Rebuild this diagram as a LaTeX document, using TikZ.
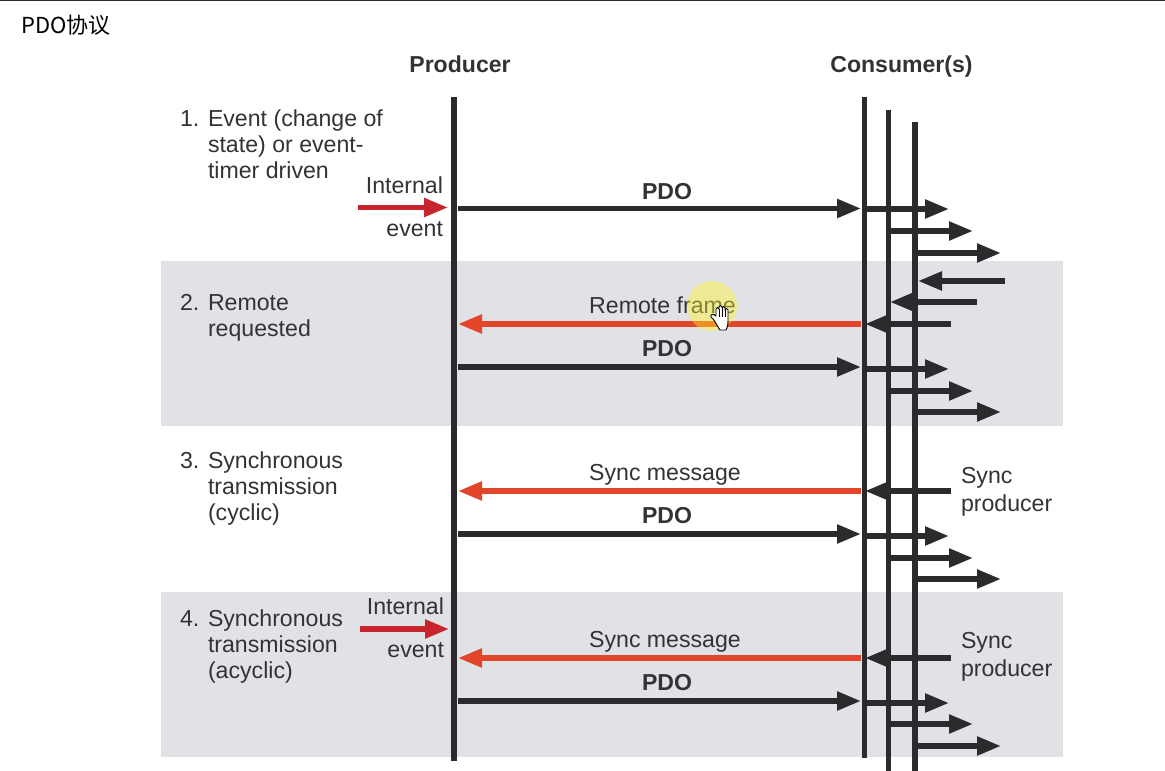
\documentclass[tikz,border=0pt]{standalone}
\usepackage{fontspec}
\setmainfont{Liberation Sans}
\newfontfamily\cjkf{Noto Sans CJK SC}
\usetikzlibrary{arrows.meta}
\definecolor{ink}{HTML}{2B2B2E}
\definecolor{txt}{HTML}{333336}
\definecolor{band}{HTML}{E1E2E5}
\definecolor{redorange}{HTML}{E2452A}
\definecolor{crimson}{HTML}{C8242E}
\tikzset{
  x=0.75pt,y=-0.75pt,
  vline/.style={draw=ink,line width=4.4pt},
  flow/.style={line width=4pt,-{Triangle[length=18pt,width=13.5pt,sep=0pt]}},
  blackflow/.style={flow,draw=ink,color=ink},
  redflow/.style={flow,draw=redorange,color=redorange},
  eventflow/.style={flow,draw=crimson,color=crimson},
  lbl/.style={inner sep=0pt,outer sep=0pt,text=txt,font=\fontsize{17.35}{19.5}\selectfont},
  blbl/.style={lbl,font=\fontsize{17.3}{19.5}\selectfont\bfseries},
  multi/.style={lbl,align=left,anchor=north west},
}
\begin{document}
\begin{tikzpicture}
\useasboundingbox (0,0) rectangle (1165,771);
\fill[white] (0,0) rectangle (1165,771);
\draw[ink,line width=1pt] (0,0.5) -- (1165,0.5);
\node[inner sep=0pt,anchor=base west,font=\fontsize{16.5}{18}\cjkf] (title) at (21,33) {PDO协议};
% bands
\fill[band] (161,261) rectangle (1063,426);
\fill[band] (161,592) rectangle (1063,757);
% lifelines
\coordinate (ptop) at (454,97); \coordinate (pbot) at (454,761);
\coordinate (c1top) at (864.5,97); \coordinate (c1bot) at (864.5,758);
\coordinate (c2top) at (888.5,110); \coordinate (c2bot) at (888.5,771);
\coordinate (c3top) at (915,122); \coordinate (c3bot) at (915,771);
\foreach \n in {p,c1,c2,c3} \draw[vline] (\n top) -- (\n bot);
% headers
\node[blbl,anchor=base] (producer) at (460,72) {Producer};
\node[blbl,anchor=base] (consumer) at (901.5,72) {Consumer(s)};
% left labels
\node[lbl,anchor=base west] (n1) at (180,126) {1.};
\node[multi] (t1) at (208,109.5) {Event (change of\\state) or event-\\timer driven};
\node[lbl,anchor=base west] (n2) at (180,310) {2.};
\node[multi] (t2) at (208,294.5) {Remote\\requested};
\node[lbl,anchor=base west] (n3) at (180,468) {3.};
\node[multi] (t3) at (208,451.5) {Synchronous\\transmission\\(cyclic)};
\node[lbl,anchor=base west] (n4) at (180,626) {4.};
\node[multi] (t4) at (208,609.5) {Synchronous\\transmission\\(acyclic)};
% internal events
\node[lbl,anchor=base east] (ie1) at (443,193) {Internal};
\node[lbl,anchor=base east] (ev1) at (443,236) {event};
\coordinate (e1a) at (358,207.5); \coordinate (e1b) at (448,207.5);
\draw[eventflow] (e1a) -- (e1b);
\node[lbl,anchor=base east] (ie2) at (444,614) {Internal};
\node[lbl,anchor=base east] (ev2) at (444,657) {event};
\coordinate (e2a) at (360,629); \coordinate (e2b) at (449,629);
\draw[eventflow] (e2a) -- (e2b);
% PDO arrows and their fan-outs
\foreach \k/\y/\ya/\yb/\yc/\t in {1/208.5/209/231/253/199, 2/367/369/391/412/356, 3/534/536/558/579/523, 4/701/703/724/746/690}{
  \coordinate (pa\k) at (458,\y); \coordinate (pb\k) at (861,\y);
  \draw[blackflow] (pa\k) -- (pb\k);
  \node[blbl,anchor=base] (pdo\k) at (667,\t) {PDO};
  \coordinate (fa\k) at (864,\ya); \coordinate (fb\k) at (949,\ya);
  \coordinate (ga\k) at (888,\yb); \coordinate (gb\k) at (973,\yb);
  \coordinate (ha\k) at (915,\yc); \coordinate (hb\k) at (1001,\yc);
  \draw[blackflow] (fa\k) -- (fb\k);
  \draw[blackflow] (ga\k) -- (gb\k);
  \draw[blackflow] (ha\k) -- (hb\k);
}
% requests towards the producer
\foreach \k/\y in {2/324,3/491,4/658}{
  \coordinate (ra\k) at (861,\y); \coordinate (rb\k) at (458,\y);
  \draw[redflow] (ra\k) -- (rb\k);
  \coordinate (sa\k) at (951,\y); \coordinate (sb\k) at (865,\y);
  \draw[blackflow] (sa\k) -- (sb\k);
}
\coordinate (u1) at (1005,281); \coordinate (u2) at (918,281);
\draw[blackflow] (u1) -- (u2);
\coordinate (v1) at (977,302); \coordinate (v2) at (890,302);
\draw[blackflow] (v1) -- (v2);
% labels
\node[lbl,anchor=base] (rf) at (662.5,313) {Remote frame};
\node[lbl,anchor=base] (sm3) at (665,480) {Sync message};
\node[lbl,anchor=base] (sm4) at (665,647) {Sync message};
\node[lbl,anchor=base west] (sp3a) at (961,483) {Sync};
\node[lbl,anchor=base west] (sp3b) at (961,511) {producer};
\node[lbl,anchor=base west] (sp4a) at (961,648) {Sync};
\node[lbl,anchor=base west] (sp4b) at (961,676) {producer};
% pointer highlight and hand cursor
\fill[yellow!85!white,opacity=0.42] (712,306) circle[radius=25];
\begin{scope}[shift={(718,306)}]
\draw[black,fill=white,line width=0.7pt,line join=round]
  (2,24) .. controls (-1,20) and (-3,14) .. (-7,11)
  .. controls (-8,9) and (-5,7) .. (-2,10)
  -- (-2,3) .. controls (-2,1) and (1,1) .. (1,3)
  -- (1,1) .. controls (1,-1) and (4,-1) .. (4,1)
  -- (4,2) .. controls (4,0) and (7,0) .. (7,2)
  -- (7,4) .. controls (7,2) and (10,2) .. (10,4)
  -- (10,15) .. controls (10,20) and (9,22) .. (8,24) -- cycle;
\draw[black,line width=0.5pt] (1,3) -- (1,11) (4,2) -- (4,11) (7,4) -- (7,11);
\end{scope}
\end{tikzpicture}
\end{document}
